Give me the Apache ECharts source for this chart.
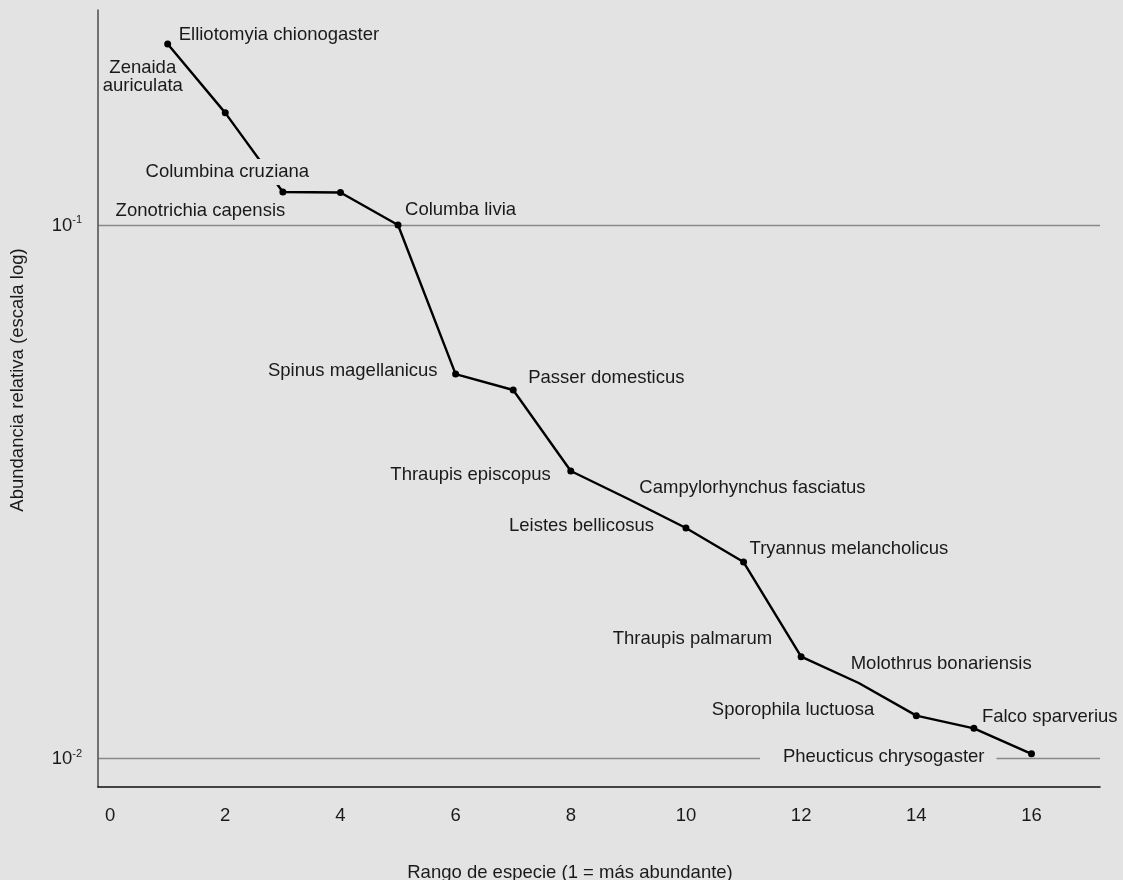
<!DOCTYPE html>
<html>
<head>
<meta charset="utf-8">
<script src="https://cdn.jsdelivr.net/npm/echarts@6/dist/echarts.min.js"></script>
<style>
html,body{margin:0;padding:0;background:#e3e3e3;}
#chart{width:1123px;height:880px;}
</style>
</head>
<body>
<div id="chart"></div>
<script>
// ---- data ----
const ranks = [1,2,3,4,5,6,7,8,9,10,11,12,13,14,15,16];
const abundances = [0.2183,0.1622,0.1153,0.1150,0.100,0.05256,0.04907,0.03459,0.03066,0.02705,0.02336,0.01553,0.01386,0.01204,0.01140,0.01021];
const species = [
  'Elliotomyia chionogaster','Zenaida\nauriculata','Columbina cruziana','Zonotrichia capensis',
  'Columba livia','Spinus magellanicus','Passer domesticus','Thraupis episcopus',
  'Campylorhynchus fasciatus','Leistes bellicosus','Tryannus melancholicus','Thraupis palmarum',
  'Molothrus bonariensis','Sporophila luctuosa','Falco sparverius','Pheucticus chrysogaster'
];
const hiddenMarkers = [9,13];
const xTickLabels = [0,2,4,6,8,10,12,14,16];
const yTickLabels = [0.01,0.1];

// ---- label placement (style only) ----
const labelPlace = [
  [7,-9,'left'],[-82.5,-35.5,'center'],[-55.5,-20,'center'],[-140,18,'center'],
  [3,-15,'left'],[-14,-3,'right'],[11,-12,'left'],[-16,4,'right'],
  [7,-11,'left'],[-28,-2,'right'],[2,-13,'left'],[-25,-18,'right'],
  [-12,-19,'left'],[-38,-6,'right'],[4,-11,'left'],[-35,3,'right']
];
const labelPadding = {3:[4,4,4,4],16:[1,12,1,23]};
const noBackground = [2];

const BG = '#e3e3e3';
const FONT = '"Liberation Sans", Arial, sans-serif';
const FS = 18.5;

const seriesData = ranks.map((r,i)=>{
  const item = {
    value:[r, abundances[i]],
    name: species[i],
    label:{
      show:true,
      position:'inside',
      align:labelPlace[i][2],
      verticalAlign:'middle',
      padding: labelPadding[r] || [1,4,1,4],
      backgroundColor: noBackground.indexOf(r) >= 0 ? 'transparent' : BG,
      lineHeight: 18
    }
  };
  if (hiddenMarkers.indexOf(r) >= 0) item.itemStyle = {color:'rgba(0,0,0,0)'};
  return item;
});

const chart = echarts.init(document.getElementById('chart'), null, {renderer:'canvas'});
chart.setOption({
  backgroundColor: BG,
  animation:false,
  textStyle:{fontFamily:FONT},
  grid:{left:98,right:23,top:10,bottom:93,containLabel:false,outerBoundsMode:'none'},
  xAxis:{
    type:'value',
    min:-0.21, max:17.19,
    name:'Rango de especie (1 = más abundante)',
    nameLocation:'middle',
    nameGap:76,
    nameTextStyle:{fontSize:FS,color:'#1a1a1a',fontFamily:FONT,padding:[0,58,0,0]},
    axisLine:{show:true,onZero:false,lineStyle:{color:'#111',width:1.6}},
    axisTick:{show:false},
    splitLine:{show:false},
    axisLabel:{
      customValues:xTickLabels,
      fontSize:FS,color:'#1a1a1a',fontFamily:FONT,margin:19,
      formatter:v=>String(v)
    }
  },
  yAxis:{
    type:'log',
    logBase:10,
    min:0.00885, max:0.2528,
    name:'Abundancia relativa (escala log)',
    nameLocation:'middle',
    nameGap:71,
    nameTextStyle:{fontSize:FS,color:'#1a1a1a',fontFamily:FONT,padding:[0,0,0,37]},
    axisLine:{show:true,onZero:false,lineStyle:{color:'#555',width:1.6}},
    axisTick:{show:false},
    splitLine:{show:true,showMinLine:false,showMaxLine:false,lineStyle:{color:'#888',width:1.4}},
    axisLabel:{
      fontSize:FS,color:'#1a1a1a',fontFamily:FONT,margin:16,
      formatter:function(v){
        for (const t of yTickLabels){
          if (Math.abs(v-t)/t < 1e-6){
            const e = Math.round(Math.log10(t));
            return '{b|10}{s|' + e + '}';
          }
        }
        return '';
      },
      rich:{
        b:{fontSize:FS,color:'#1a1a1a',fontFamily:FONT,lineHeight:20,verticalAlign:'bottom'},
        s:{fontSize:11,color:'#1a1a1a',fontFamily:FONT,lineHeight:11,verticalAlign:'top'}
      }
    }
  },
  series:[{
    type:'line',
    data:seriesData,
    symbol:'circle',
    symbolSize:7,
    showAllSymbol:true,
    itemStyle:{color:'#000'},
    lineStyle:{color:'#000',width:2.4},
    label:{
      show:true,
      fontSize:FS,color:'#1a1a1a',fontFamily:FONT,
      formatter:p=>p.name
    },
    labelLayout:function(params){
      const p = labelPlace[params.dataIndex];
      return {dx:p[0], dy:p[1], hideOverlap:false};
    },
    emphasis:{disabled:true},
    z:3
  }]
});
</script>
</body>
</html>
